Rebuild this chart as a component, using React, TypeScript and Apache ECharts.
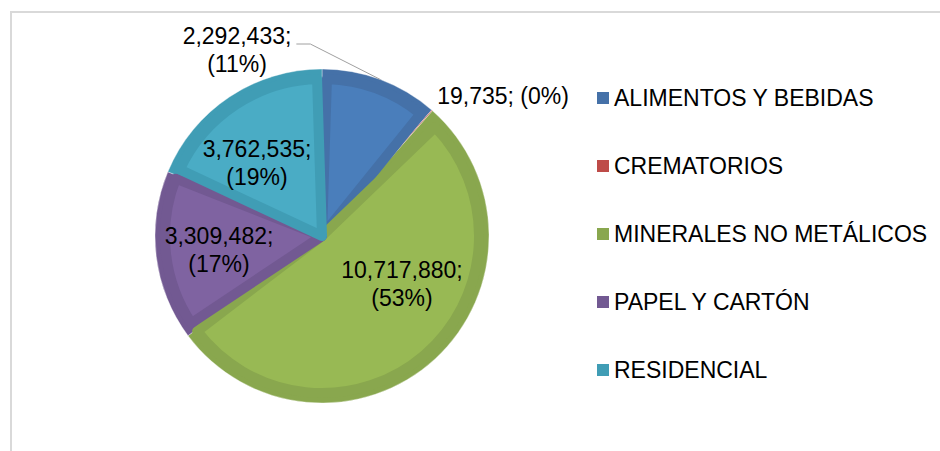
import { useEffect, useRef } from 'react';
import * as echarts from 'echarts';

// ---- data ----
const categories = [
  'ALIMENTOS Y BEBIDAS',
  'CREMATORIOS',
  'MINERALES NO METÁLICOS',
  'PAPEL Y CARTÓN',
  'RESIDENCIAL',
];
const values = [2292433, 19735, 10717880, 3309482, 3762535];

// ---- styles / layout ----
const fillColors = ['#4a7ebb', '#be4b48', '#98b954', '#7f63a1', '#4aacc5'];
const edgeColors = ['#4571a8', '#a94441', '#89a74e', '#725992', '#409db5'];
const labelCenters: [number, number][] = [
  [237, 50],
  [503, 96],
  [402, 284],
  [219, 250],
  [257, 163],
];
const singleLineLabel = [false, true, false, false, false];

const FONT = "'Liberation Sans', Arial, Helvetica, sans-serif";
const CENTER: [number, number] = [322, 236];
const R = 167;
const BAND = 5; // half-width of the inner edge stroke

export default function App() {
  const ref = useRef<HTMLDivElement>(null);

  useEffect(() => {
    const chart = echarts.init(ref.current!, null, { renderer: 'svg' });
    const fmt = (v: number) => v.toLocaleString('en-US');

    chart.setOption({
      animation: false,
      backgroundColor: '#ffffff',
      graphic: [
        {
          type: 'rect',
          silent: true,
          z: 0,
          shape: { x: 11, y: 12, width: 1000, height: 1000 },
          style: { fill: 'none', stroke: '#d9d9d9', lineWidth: 2 },
        },
      ],
      legend: {
        orient: 'vertical',
        left: 597,
        top: 86,
        padding: 0,
        itemWidth: 12,
        itemHeight: 12,
        itemGap: 44,
        icon: 'rect',
        selectedMode: false,
        data: categories,
        itemStyle: { borderWidth: 0 },
        textStyle: {
          fontSize: 23,
          lineHeight: 24,
          color: '#000000',
          fontFamily: FONT,
        },
      },
      series: [
        // dark outline layer: full slices in the edge colours
        {
          type: 'pie',
          name: 'edges',
          center: CENTER,
          radius: R,
          startAngle: 90,
          clockwise: true,
          percentPrecision: 0,
          silent: true,
          z: 1,
          label: { show: false },
          labelLine: { show: false },
          data: categories.map((name, i) => ({
            name,
            value: values[i],
            itemStyle: {
              color: i === 1 ? fillColors[i] : edgeColors[i],
              borderColor: 'rgba(255,255,255,0.45)',
              borderWidth: 0.8,
            },
          })),
        },
        // lighter inner fill of each slice, inset from its edges
        {
          type: 'pie',
          name: 'fills',
          center: CENTER,
          radius: R - 2 * BAND,
          startAngle: 90,
          clockwise: true,
          padAngle: 3.6,
          percentPrecision: 0,
          silent: true,
          z: 2,
          label: { show: false },
          labelLine: { show: false },
          data: categories.map((name, i) => ({
            name,
            value: values[i],
            itemStyle:
              i === 1
                ? { color: 'rgba(0,0,0,0)', borderWidth: 0 }
                : {
                    color: fillColors[i],
                    borderColor: edgeColors[i],
                    borderWidth: 2 * BAND,
                    borderJoin: 'round',
                  },
          })),
        },
        // labels
        {
          type: 'pie',
          name: 'labels',
          center: CENTER,
          radius: R,
          startAngle: 90,
          clockwise: true,
          percentPrecision: 0,
          avoidLabelOverlap: false,
          silent: true,
          z: 3,
          itemStyle: { color: 'rgba(0,0,0,0)', borderWidth: 0 },
          label: {
            show: true,
            position: 'outside',
            color: '#000000',
            fontFamily: FONT,
            fontSize: 23,
            lineHeight: 28,
            formatter: (p: any) =>
              fmt(p.value) +
              ';' +
              (singleLineLabel[p.dataIndex] ? ' ' : '\n') +
              '(' +
              p.percent +
              '%)',
          },
          labelLine: {
            show: true,
            length: 10,
            length2: 10,
            lineStyle: { color: '#a0a0a0', width: 1 },
          },
          labelLayout: (p: any) => {
            const i = p.dataIndex;
            const [x, y] = labelCenters[i];
            const out: any = { x, y, align: 'center', verticalAlign: 'middle' };
            if (i === 0 && p.labelLinePoints) {
              const right = x + p.labelRect.width / 2;
              const ly = y - 6;
              out.labelLinePoints = [
                p.labelLinePoints[0],
                [right + 19, ly],
                [right + 5, ly],
              ];
            }
            return out;
          },
          data: categories.map((name, i) => ({
            name,
            value: values[i],
            labelLine: { show: i === 0 },
          })),
        },
      ],
    });

    return () => chart.dispose();
  }, []);

  return (
    <div
      ref={ref}
      style={{ position: 'fixed', left: 0, top: 0, width: 940, height: 451 }}
    />
  );
}
